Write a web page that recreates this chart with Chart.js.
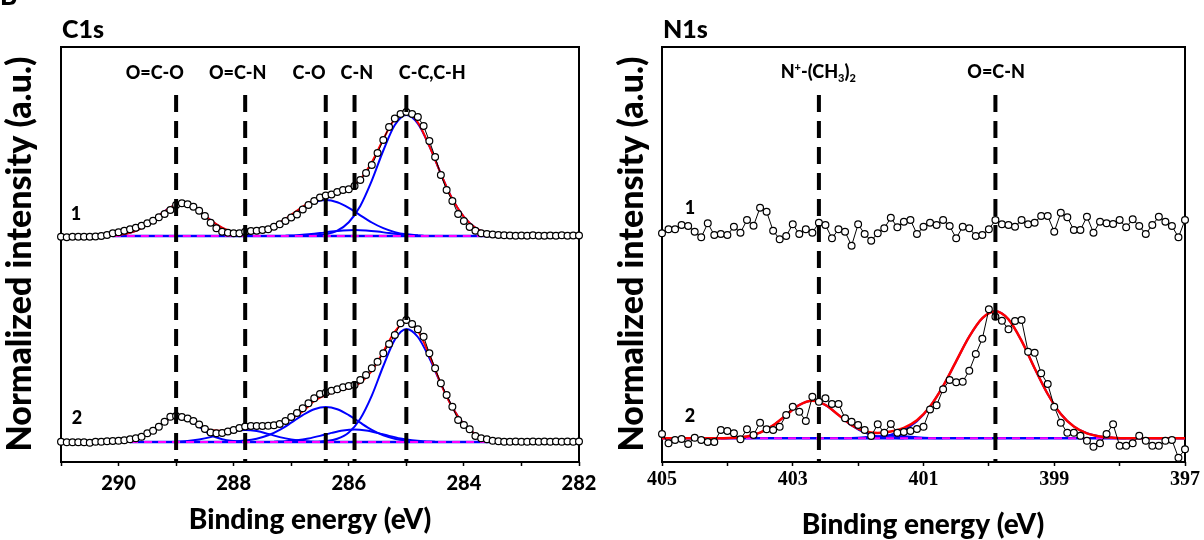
<!DOCTYPE html>
<html><head><meta charset="utf-8">
<script src="https://cdn.jsdelivr.net/npm/chart.js@4/dist/chart.umd.min.js"></script>
<style>
html,body{margin:0;padding:0;background:#fff;}
#wrap{position:relative;width:1204px;height:540px;overflow:hidden;}
canvas{position:absolute;left:0;top:0;}
</style></head><body>
<div id="wrap"><canvas id="c1" width="1204" height="540"></canvas><canvas id="c2" width="1204" height="540"></canvas></div>
<script>
// ---------------- C1s data ----------------
const C1s_E = [291.0,290.9,290.8,290.7,290.6,290.5,290.4,290.3,290.2,290.1,290.0,289.9,289.8,289.7,289.6,289.5,289.4,289.3,289.2,289.1,289.0,288.9,288.8,288.7,288.6,288.5,288.4,288.3,288.2,288.1,288.0,287.9,287.8,287.7,287.6,287.5,287.4,287.3,287.2,287.1,287.0,286.9,286.8,286.7,286.6,286.5,286.4,286.3,286.2,286.1,286.0,285.9,285.8,285.7,285.6,285.5,285.4,285.3,285.2,285.1,285.0,284.9,284.8,284.7,284.6,284.5,284.4,284.3,284.2,284.1,284.0,283.9,283.8,283.7,283.6,283.5,283.4,283.3,283.2,283.1,283.0,282.9,282.8,282.7,282.6,282.5,282.4,282.3,282.2,282.1,282.0];
const C1s_s1 = [225.3,224.8,225.3,225.3,225.3,225.3,225.5,226,227,228.7,
229.7,231.3,232.7,234.3,236.3,238.7,241.3,244.7,248,252,
257,258.7,257.7,255.3,251.3,246,239.3,233.7,230.3,229.3,
228.7,228.7,230.3,231,231.3,232,232.7,235.3,237.7,241,
244.5,247.5,252.5,257,261,264.5,266.5,267.5,270,272,
272.7,276,282,289,297,309,322,335,343.5,348,
350,348,345,336,321,305,287,272,261,248,
241,235,231.3,228.7,228,227.5,227,226.7,226.5,226.3,
226.5,226.3,226.7,226.3,226.3,226.5,226.3,226.7,226.3,226.5,
226.5];
const C1s_s2 = [20.3,19.7,19.7,19.7,19.7,19.3,20.3,20.3,20.7,21,
21.3,21.7,22.7,23.7,25.3,28.7,31.3,35.3,40.3,45.3,
46,45,43.5,41,37.5,33,29.5,28.7,29,30.5,
32,34,35.5,36,36,36,36.3,36.8,38,41,
45,49,53.7,58.7,63.7,68,69.3,71.3,72.7,74.7,
76,77,82,87,93.7,100.3,108.7,118,127,138.7,
142,138,132.7,125.3,108.7,93.7,78.7,67,55.3,42,
37,32.7,26,23.7,22.7,21.3,20.7,20.3,20.3,20.5,
20.3,20.3,20.5,20.3,20.5,20.3,20.5,20.3,20.5,20.3,
20.5];

// fitted envelopes (red)
const C1s_env1_E = [290.2,290.0,289.8,289.6,289.4,289.2,289.0,288.8,288.6,288.4,288.2,288.0,287.8,287.6,287.4,287.2,287.0,286.8,286.6,286.4,286.2,286.0,285.8,285.6,285.4,285.2,285.0,284.8,284.6,284.4,284.2,284.0,283.8,283.6,283.4,283.2];
const C1s_env1 = [226.3,227.0,229.2,234.0,241.8,250.8,257.1,257.1,250.8,241.8,234.3,229.9,228.7,230.2,233.8,239.5,247.2,255.4,262.1,267.3,270.1,273.9,282.7,299.9,322.9,343.2,349.9,339.6,315.9,288.2,263,245.1,234.3,229.3,227.1,226.3];
const C1s_env2_E = [290.0,289.8,289.6,289.4,289.2,289.0,288.8,288.6,288.4,288.2,288.0,287.8,287.6,287.4,287.2,287.0,286.8,286.6,286.4,286.2,286.0,285.8,285.6,285.4,285.2,285.0,284.8,284.6,284.4,284.2,284.0,283.8,283.6,283.4,283.2];
const C1s_env2 = [21.2,22.6,25.3,31.3,40.3,46.4,43.6,37.9,31.9,31.2,32.4,33.7,34.2,35,37.6,43,50.5,61,67,71,74,79,91,110.3,130.5,140,131,107,78.2,54.6,37.9,27.8,23.1,21,20.3];

// fitted components (blue) - sample 1
const s1_OCO_E = [290.1,289.9,289.7,289.5,289.3,289.1,288.9,288.7,288.5,288.3,288.1,287.9,287.7];
const s1_OCO   = [226.5,227.9,231.2,237.5,246.4,254.6,258,254.6,246.4,237.5,231.2,227.9,226.5];
const s1_CO_E  = [288.0,287.8,287.6,287.4,287.2,287.0,286.8,286.6,286.4,286.2,286.0,285.8,285.6,285.4,285.2,285.0,284.8];
const s1_CO    = [226.7,227.7,229.9,233.8,239.5,246.7,254.2,259.8,262,259.8,254.2,246.7,239.5,233.8,229.9,227.7,226.7];
const s1_CN_E  = [287.1,286.9,286.7,286.5,286.3,286.1,285.9,285.7,285.5,285.3,285.1,284.9,284.7];
const s1_CN    = [226.3,226.8,227.7,228.9,230.4,231.5,232,231.5,230.4,228.9,227.7,226.8,226.3];
const s1_CC_E  = [286.8,286.6,286.4,286.2,286.0,285.8,285.6,285.4,285.2,285.0,284.8,284.6,284.4,284.2,284.0,283.8,283.6,283.4,283.2];
const s1_CC    = [226,226.5,227.7,231.3,239.8,256.1,281.4,311.5,337,347,338.4,315.9,288.2,263,245.1,234.3,229.3,227.1,226.3];
const s1_base_E = [290.1,283.4];
const s1_base   = [226,226];
// sample 2
const s2_OCO_E = [290.2,290.0,289.8,289.6,289.4,289.2,289.0,288.8,288.6,288.4,288.2,288.0,287.8];
const s2_OCO   = [20.5,21.2,22.6,25.3,31.3,40.3,46,42.6,35.4,27,22.8,21,20.3];
const s2_OCN_E = [289.0,288.8,288.6,288.4,288.2,288.0,287.8,287.6,287.4,287.2,287.0,286.8,286.6];
const s2_OCN   = [20.35,21,22.5,24.9,28.1,30.9,32,30.9,28.1,24.9,22.5,21,20.35];
const s2_CO_E  = [288.0,287.8,287.6,287.4,287.2,287.0,286.8,286.6,286.4,286.2,286.0,285.8,285.6,285.4,285.2,285.0,284.8];
const s2_CO    = [20.5,21.4,23.3,26.7,32.2,39.3,46.9,52.8,55,52.8,46.9,39.3,32.2,26.7,23.3,21.4,20.5];
const s2_CN_E  = [287.3,287.1,286.9,286.7,286.5,286.3,286.1,285.9,285.7,285.5,285.3,285.1,284.9,284.7,284.5];
const s2_CN    = [20.3,20.7,21.7,23.5,26.1,29.1,31.5,32.5,31.5,29.1,26.1,23.5,21.7,20.7,20.3];
const s2_CC_E  = [286.6,286.4,286.2,286.0,285.8,285.6,285.4,285.2,285.0,284.8,284.6,284.4,284.2,284.0,283.8,283.6,283.4,283.2];
const s2_CC    = [20.2,20.9,23.3,29.6,43.3,66.4,96,122.4,133,125,104,78.1,54.6,37.9,27.8,23.1,21,20.3];
const s2_base_E = [289.8,283.4];
const s2_base   = [20,20];

const C1s_refE   = [289.0, 287.8, 286.4, 285.9, 285.0];
const C1s_refLbl = ['O=C-O', 'O=C-N', 'C-O', 'C-N', 'C-C,C-H'];
const C1s_ticks  = [282, 284, 286, 288, 290];

// ---------------- N1s data ----------------
const N1s_E = [405.0,404.9,404.8,404.7,404.6,404.5,404.4,404.3,404.2,404.1,404.0,403.9,403.8,403.7,403.6,403.5,403.4,403.3,403.2,403.1,403.0,402.9,402.8,402.7,402.6,402.5,402.4,402.3,402.2,402.1,402.0,401.9,401.8,401.7,401.6,401.5,401.4,401.3,401.2,401.1,401.0,400.9,400.8,400.7,400.6,400.5,400.4,400.3,400.2,400.1,400.0,399.9,399.8,399.7,399.6,399.5,399.4,399.3,399.2,399.1,399.0,398.9,398.8,398.7,398.6,398.5,398.4,398.3,398.2,398.1,398.0,397.9,397.8,397.7,397.6,397.5,397.4,397.3,397.2,397.1,397.0];
const N1s_s1 = [228.7,232.7,232.7,237,236,230.3,224.7,238.7,227,228,
227,235.3,229.3,242,236.3,254.3,250.3,231.3,222.7,226,
237.7,228,232.7,229.3,239.3,237,223.7,232.7,230.3,216.3,
237.7,228,221.3,228.7,233.7,244.3,234.7,240.3,242,228,
235.3,239.3,237,242,236,223.7,235.3,233.7,226,227,
232.7,242,237.7,237,235.3,242,237.7,239.3,246,246,
230.3,249.3,244.7,232,232,245.3,229.3,240.3,238.7,238,
242,234.7,242.7,236,228,237,245.3,240.3,236,224.7,242];
const N1s_s2 = [28,18.7,22,23,18,24.3,22,20,20,32,
31,28.7,22.7,32.7,27,39.3,32.7,32,35.3,47,
55.3,50.3,41,65.3,60.3,63.7,58,58,43.7,40.3,
37,32,26,37.7,29.3,38,29.3,30,31,33,
35.3,52.5,56.7,72.7,82,79.7,80.3,91.3,108,123.3,
152.7,145.3,141.3,132.7,141,142,110.3,109.3,88.7,78,
55.3,39.3,29.3,29.3,26.3,21.3,15.3,18.7,28,37.7,
16.3,16.3,18.7,26.3,21.3,16.3,16.3,21.3,22,4.3,12.7];
const N1s_env_E = [405.0,404.9,404.7,404.5,404.3,404.1,403.9,403.7,403.5,403.3,403.1,402.9,402.7,402.5,402.3,402.1,401.9,401.7,401.5,401.3,401.1,400.9,400.7,400.5,400.3,400.1,399.9,399.7,399.5,399.3,399.1,398.9,398.7,398.5,398.3,398.1,397.9,397.7,397.5,397.3,397.1,397.0];
const N1s_env   = [23.7,23.7,23.7,23.7,23.7,23.8,24.2,25.6,29.3,36.6,47.0,57.0,61.2,57.0,47.0,36.9,30.8,29,30.4,34.2,41.8,55.6,75.9,100.8,125.4,143.8,150.7,142.6,121.2,93.8,68,48,35.5,28.7,25.6,24.3,23.7,23.7,23.7,23.7,23.7,23.7];
const n_A_E = [404.1,403.9,403.7,403.5,403.3,403.1,402.9,402.7,402.5,402.3,402.1,401.9,401.7,401.5,401.3];
const n_A   = [23.7,24.2,25.6,29.3,36.6,47,57,61.2,57,47,36.6,29.3,25.6,24.2,23.7];
const n_B_E = [401.9,401.7,401.5,401.3,401.1,400.9,400.7,400.5,400.3,400.1,399.9,399.7,399.5,399.3,399.1,398.9,398.7,398.5,398.3,398.1,397.9];
const n_B   = [24.2,25.1,27.4,32.1,40.8,55.3,75.9,100.8,125.4,143.8,150.7,142.6,121.2,93.8,68,48,35.5,28.7,25.6,24.3,23.7];
const n_C_E = [402.3,402.1,401.9,401.7,401.5,401.3,401.1,400.9,400.7];
const n_C   = [23.7,24,24.7,25.7,26.2,25.7,24.7,24,23.7];
const n_base_E = [405.0,397.0];
const n_base   = [23.7,23.7];

const N1s_refE   = [402.6, 399.9];
const N1s_ticks  = [397, 399, 401, 403, 405];

// ---------------- helpers ----------------
const SANS = 'Lato, "Open Sans", sans-serif';
const SERIF = '"Liberation Serif", "Times New Roman", serif';
const W = 900; // heavy weight for the sans labels
const VTOP = 367; // dashed markers reach this intensity

function pts(E, I) { return E.map((e, i) => ({x: e, y: I[i]})); }
function dataSet(E, I) {
  return {data: pts(E, I), borderColor: '#000', borderWidth: 1, pointRadius: 3.4,
    pointBorderWidth: 1.2, pointBackgroundColor: '#fff', pointBorderColor: '#000',
    tension: 0, order: 2, clip: false};
}
function fitSet(E, I, color, width, order) {
  return {data: pts(E, I), borderColor: color, borderWidth: width, pointRadius: 0,
    cubicInterpolationMode: 'monotone', order: order, clip: false};
}
function baseDash(E, I) {
  return {data: pts(E, I), borderColor: '#ff00ff', borderWidth: 2, borderDash: [8, 6],
    pointRadius: 0, order: 4, clip: false};
}
function vline(e) {
  return {data: [{x: e, y: VTOP}, {x: e, y: 0}], borderColor: '#000', borderWidth: 4,
    borderDash: [17, 9], borderCapStyle: 'butt', pointRadius: 0, order: 1, clip: false};
}

const boxPlugin = {
  id: 'box',
  beforeDatasetsDraw(chart) {
    const a = chart.chartArea, ctx = chart.ctx;
    ctx.save(); ctx.strokeStyle = '#000'; ctx.lineWidth = 2;
    ctx.strokeRect(a.left, a.top, a.right - a.left, a.bottom - a.top);
    ctx.restore();
  }
};
function drawRich(ctx, parts, cx, cy, size) {
  let w = 0;
  const fonts = parts.map(p => `${W} ${p.sub || p.sup ? Math.round(size * 0.62) : size}px ${SANS}`);
  parts.forEach((p, i) => { ctx.font = fonts[i]; w += ctx.measureText(p.t).width; });
  let x = cx - w / 2;
  ctx.textAlign = 'left'; ctx.textBaseline = 'alphabetic';
  const base = cy + size * 0.35;
  parts.forEach((p, i) => {
    ctx.font = fonts[i];
    let y = base;
    if (p.sub) y = base + size * 0.18;
    if (p.sup) y = base - size * 0.38;
    ctx.fillText(p.t, x, y);
    x += ctx.measureText(p.t).width;
  });
}
const textPlugin = {
  id: 'texts',
  afterDraw(chart, args, opts) {
    const ctx = chart.ctx, xs = chart.scales.x, ys = chart.scales.y;
    ctx.save();
    ctx.fillStyle = '#000';
    for (const t of opts.items) {
      const x = t.px !== undefined ? t.px : xs.getPixelForValue(t.x);
      const y = t.py !== undefined ? t.py : ys.getPixelForValue(t.y);
      if (t.rich) { drawRich(ctx, t.rich, x, y, t.size); continue; }
      ctx.font = t.font;
      ctx.textAlign = t.align || 'center';
      ctx.textBaseline = t.baseline || 'middle';
      if (t.rot) {
        ctx.translate(x, y); ctx.rotate(t.rot); ctx.fillText(t.text, 0, 0);
        ctx.setTransform(1, 0, 0, 1, 0, 0);
      } else ctx.fillText(t.text, x, y);
    }
    ctx.restore();
  }
};

function makeChart(id, cfg) {
  return new Chart(document.getElementById(id), {
    type: 'line',
    data: {datasets: cfg.datasets},
    options: {
      responsive: false, animation: false, devicePixelRatio: 1, events: [],
      layout: {padding: cfg.padding},
      plugins: {legend: {display: false}, tooltip: {enabled: false}, texts: {items: cfg.texts}},
      scales: {
        x: {
          type: 'linear', reverse: true, min: cfg.xmin, max: cfg.xmax,
          border: {display: false},
          grid: {display: true, drawOnChartArea: false, drawTicks: true, tickLength: 4,
                 tickWidth: 1.5, tickColor: '#000'},
          ticks: {stepSize: 1, autoSkip: false, maxRotation: 0, color: '#000',
                  padding: cfg.tickPad, font: cfg.tickFont,
                  callback: v => (cfg.tickVals.includes(v) ? String(v) : '')},
          afterFit: s => { s.height = 78; }
        },
        y: {
          type: 'linear', min: 0, max: 415, display: true,
          border: {display: false}, grid: {display: false},
          ticks: {display: false},
          afterFit: s => { s.width = cfg.yWidth; }
        }
      }
    },
    plugins: [boxPlugin, textPlugin]
  });
}

// ---------------- C1s chart ----------------
const blue = '#0000ff', red = '#ff0000';
const c1Sets = [
  dataSet(C1s_E, C1s_s1), dataSet(C1s_E, C1s_s2),
  fitSet(C1s_env1_E, C1s_env1, red, 2, 3), fitSet(C1s_env2_E, C1s_env2, red, 2, 3),
  baseDash(s1_base_E, s1_base), baseDash(s2_base_E, s2_base),
  fitSet(s1_OCO_E, s1_OCO, blue, 2, 5), fitSet(s1_CO_E, s1_CO, blue, 2, 5),
  fitSet(s1_CN_E, s1_CN, blue, 2, 5), fitSet(s1_CC_E, s1_CC, blue, 2, 5),
  fitSet(s2_OCO_E, s2_OCO, blue, 2, 5), fitSet(s2_OCN_E, s2_OCN, blue, 2, 5),
  fitSet(s2_CO_E, s2_CO, blue, 2, 5), fitSet(s2_CN_E, s2_CN, blue, 2, 5),
  fitSet(s2_CC_E, s2_CC, blue, 2, 5),
  fitSet(s1_base_E, s1_base, blue, 2.5, 6), fitSet(s2_base_E, s2_base, blue, 2.5, 6),
  ...C1s_refE.map(vline)
];
const c1LabelPos = [289.37, 287.93, 286.69, 285.86, 284.55];
const c1Texts = [
  ...C1s_refLbl.map((t, i) => ({text: t, x: c1LabelPos[i], py: 73, font: `${W} 18px ${SANS}`})),
  {text: 'C1s', px: 62, py: 30, align: 'left', font: `${W} 25px ${SANS}`},
  {text: 'B', px: 0, py: 5, align: 'left', baseline: 'alphabetic', font: `${W} 26px ${SANS}`},
  {text: '1', px: 76, py: 214, font: `${W} 18px ${SANS}`},
  {text: '2', px: 77, py: 418, font: `${W} 18px ${SANS}`},
  {text: 'Binding energy (eV)', px: 310, py: 520, font: `${W} 28px ${SANS}`},
  {text: 'Normalized intensity (a.u.)', px: 20, py: 254, rot: -Math.PI / 2, font: `${W} 34px ${SANS}`}
];
makeChart('c1', {
  datasets: c1Sets, padding: {left: 0, right: 625, top: 47, bottom: 0},
  xmin: 282, xmax: 291, tickVals: C1s_ticks, tickPad: 6,
  tickFont: {family: SANS, size: 20, weight: W}, yWidth: 61, texts: c1Texts
});

// ---------------- N1s chart ----------------
const c2Sets = [
  dataSet(N1s_E, N1s_s1), dataSet(N1s_E, N1s_s2),
  fitSet(N1s_env_E, N1s_env, red, 2.5, 3),
  baseDash(n_base_E, n_base),
  fitSet(n_A_E, n_A, blue, 2, 5), fitSet(n_B_E, n_B, blue, 2, 5), fitSet(n_C_E, n_C, blue, 2, 5),
  fitSet(n_base_E, n_base, blue, 2.5, 6),
  ...N1s_refE.map(vline)
];
const c2Texts = [
  {rich: [{t: 'N'}, {t: '+', sup: true}, {t: '-(CH'}, {t: '3', sub: true}, {t: ')'}, {t: '2', sub: true}],
   x: 402.61, py: 72, size: 18},
  {text: 'O=C-N', x: 399.89, py: 72, font: `${W} 18px ${SANS}`},
  {text: 'N1s', px: 663, py: 30, align: 'left', font: `${W} 25px ${SANS}`},
  {text: '1', px: 690, py: 208, font: `${W} 18px ${SANS}`},
  {text: '2', px: 690, py: 416, font: `${W} 18px ${SANS}`},
  {text: 'Binding energy (eV)', px: 923, py: 525, font: `${W} 28px ${SANS}`},
  {text: 'Normalized intensity (a.u.)', px: 632, py: 254, rot: -Math.PI / 2, font: `${W} 34px ${SANS}`}
];
makeChart('c2', {
  datasets: c2Sets, padding: {left: 600, right: 19, top: 47, bottom: 0},
  xmin: 397, xmax: 405, tickVals: N1s_ticks, tickPad: 2,
  tickFont: {family: SERIF, size: 20, weight: 'bold'}, yWidth: 62, texts: c2Texts
});
</script>
</body></html>
